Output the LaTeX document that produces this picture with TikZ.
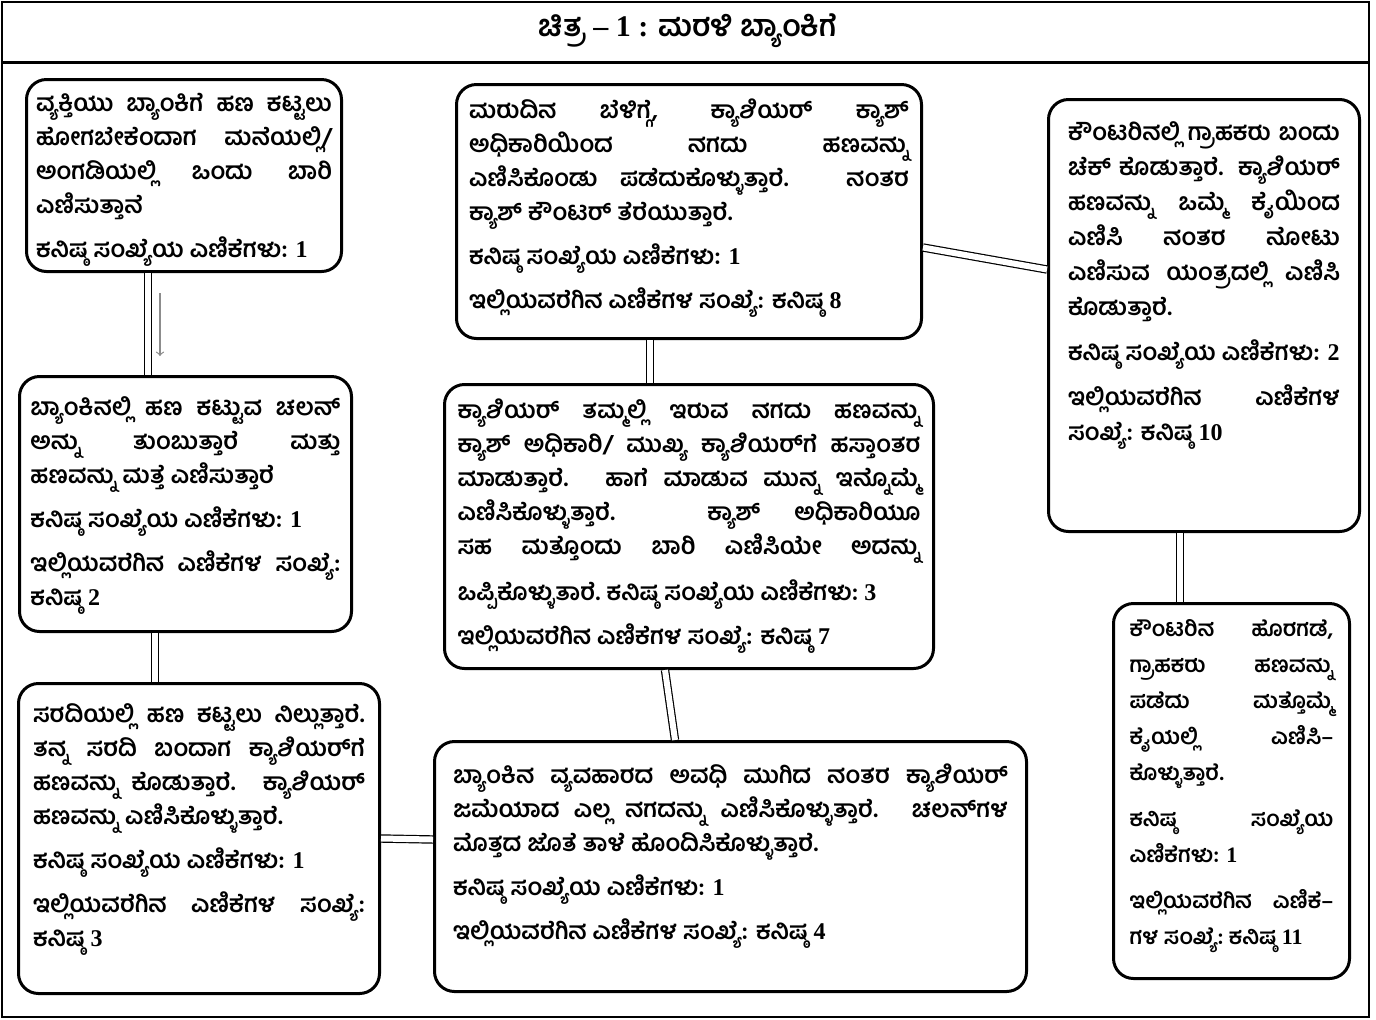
\documentclass[tikz,border=0pt]{standalone}
\usepackage{fontspec}
\setmainfont{Liberation Serif}
\newfontfamily\kn[Script=Kannada]{Hind Mysuru}
\newfontfamily\numfont{Liberation Serif}
\usetikzlibrary{positioning,calc}
\tikzset{
  card/.style={draw, line width=1.5pt, rounded corners=10pt, fill=white,
               inner xsep=0pt, inner ysep=7pt, anchor=north west},
  link/.style={draw, double, double distance=3pt, line width=0.6pt},
  hint/.style={draw=black!45, line width=0.6pt, ->}
}
\newcommand{\nm}[1]{{\numfont\bfseries #1}}
\newcommand{\nxt}{\par\vspace{5pt}}
\newcommand{\jnxt}{{\parfillskip=0pt\par}\vspace{6pt}}
\newcommand{\cardtext}[4][0pt]{\parbox[c][#3][t]{#2}{\kn\bfseries
  \fontsize{12}{17}\selectfont\hyphenpenalty=10000 \exhyphenpenalty=10000
  \vspace*{#1}#4}}

\begin{document}
\begin{tikzpicture}[x=0.5pt,y=-0.5pt]
\useasboundingbox (0,0) rectangle (1376,1019);
% frame and heading
\draw[line width=0.8pt] (2,2) rectangle (1369,1017);
\draw[line width=1.5pt] (2,62) -- (1369,62);
\node[font=\kn\bfseries\fontsize{15}{18}\selectfont] (title) at (688,31)
  {ಚಿತ್ರ \nm{– 1 :} ಮರಳಿ ಬ್ಯಾಂಕಿಗೆ};

% left column
\node[card, minimum width=157.5pt] (b1) at (25,78) {\cardtext{148pt}{82pt}{%
ವ್ಯಕ್ತಿಯು ಬ್ಯಾಂಕಿಗೆ ಹಣ ಕಟ್ಟಲು\linebreak ಹೋಗಬೇಕೆಂದಾಗ ಮನೆಯಲ್ಲಿ/\linebreak
ಅಂಗಡಿಯಲ್ಲಿ ಒಂದು ಬಾರಿ\linebreak ಎಣಿಸುತ್ತಾನೆ\nxt
ಕನಿಷ್ಠ ಸಂಖ್ಯೆಯ ಎಣಿಕೆಗಳು: \nm{1}}};
\node[card, minimum width=166pt] (b2) at (18,375) {\cardtext[3pt]{155pt}{113.5pt}{%
ಬ್ಯಾಂಕಿನಲ್ಲಿ ಹಣ ಕಟ್ಟುವ ಚಲನ್\linebreak ಅನ್ನು ತುಂಬುತ್ತಾರೆ ಮತ್ತು\linebreak
ಹಣವನ್ನು ಮತ್ತೆ ಎಣಿಸುತ್ತಾರೆ\nxt
ಕನಿಷ್ಠ ಸಂಖ್ಯೆಯ ಎಣಿಕೆಗಳು: \nm{1}\nxt
ಇಲ್ಲಿಯವರೆಗಿನ ಎಣಿಕೆಗಳ ಸಂಖ್ಯೆ:\linebreak ಕನಿಷ್ಠ \nm{2}}};
\node[card, minimum width=180.5pt] (b3) at (17,682) {\cardtext[3pt]{166pt}{141pt}{%
ಸರದಿಯಲ್ಲಿ~ಹಣ~ಕಟ್ಟಲು~ನಿಲ್ಲುತ್ತಾರೆ.\linebreak ತನ್ನ ಸರದಿ ಬಂದಾಗ ಕ್ಯಾಶಿಯರ್^^^^200cಗೆ\linebreak
ಹಣವನ್ನು ಕೊಡುತ್ತಾರೆ. ಕ್ಯಾಶಿಯರ್\linebreak ಹಣವನ್ನು ಎಣಿಸಿಕೊಳ್ಳುತ್ತಾರೆ.\nxt
ಕನಿಷ್ಠ ಸಂಖ್ಯೆಯ ಎಣಿಕೆಗಳು: \nm{1}\nxt
ಇಲ್ಲಿಯವರೆಗಿನ ಎಣಿಕೆಗಳ ಸಂಖ್ಯೆ:\linebreak ಕನಿಷ್ಠ \nm{3}}};

% middle column
\node[card, minimum width=232.5pt] (b4) at (455,83) {\cardtext{220pt}{113pt}{%
ಮರುದಿನ ಬೆಳಿಗ್ಗೆ, ಕ್ಯಾಶಿಯರ್ ಕ್ಯಾಶ್\linebreak ಅಧಿಕಾರಿಯಿಂದ ನಗದು ಹಣವನ್ನು\linebreak
ಎಣಿಸಿಕೊಂಡು ಪಡೆದುಕೊಳ್ಳುತ್ತಾರೆ. ನಂತರ\linebreak ಕ್ಯಾಶ್ ಕೌಂಟರ್ ತೆರೆಯುತ್ತಾರೆ.\nxt
ಕನಿಷ್ಠ ಸಂಖ್ಯೆಯ ಎಣಿಕೆಗಳು: \nm{1}\nxt
ಇಲ್ಲಿಯವರೆಗಿನ ಎಣಿಕೆಗಳ ಸಂಖ್ಯೆ: ಕನಿಷ್ಠ \nm{8}}};
\node[card, minimum width=244.5pt] (b5) at (443,383) {\cardtext{231.5pt}{128pt}{%
ಕ್ಯಾಶಿಯರ್ ತಮ್ಮಲ್ಲಿ ಇರುವ ನಗದು ಹಣವನ್ನು\linebreak
ಕ್ಯಾಶ್ ಅಧಿಕಾರಿ/ ಮುಖ್ಯ ಕ್ಯಾಶಿಯರ್^^^^200cಗೆ ಹಸ್ತಾಂತರ\linebreak
ಮಾಡುತ್ತಾರೆ. ಹಾಗೆ ಮಾಡುವ ಮುನ್ನ ಇನ್ನೊಮ್ಮೆ\linebreak
ಎಣಿಸಿಕೊಳ್ಳುತ್ತಾರೆ. ಕ್ಯಾಶ್ ಅಧಿಕಾರಿಯೂ\linebreak
ಸಹ ಮತ್ತೊಂದು ಬಾರಿ ಎಣಿಸಿಯೇ ಅದನ್ನು\jnxt
ಒಪ್ಪಿಕೊಳ್ಳುತಾರೆ.~ಕನಿಷ್ಠ~ಸಂಖ್ಯೆಯ~ಎಣಿಕೆಗಳು:~\nm{3}\nxt
ಇಲ್ಲಿಯವರೆಗಿನ ಎಣಿಕೆಗಳ ಸಂಖ್ಯೆ: ಕನಿಷ್ಠ \nm{7}}};
\node[card, minimum width=296pt] (b6) at (433,740) {\cardtext[4pt]{277.5pt}{111pt}{%
ಬ್ಯಾಂಕಿನ ವ್ಯವಹಾರದ ಅವಧಿ ಮುಗಿದ ನಂತರ ಕ್ಯಾಶಿಯರ್\linebreak
ಜಮೆಯಾದ ಎಲ್ಲ ನಗದನ್ನು ಎಣಿಸಿಕೊಳ್ಳುತ್ತಾರೆ. ಚಲನ್^^^^200cಗಳ\linebreak
ಮೊತ್ತದ ಜೊತೆ ತಾಳೆ ಹೊಂದಿಸಿಕೊಳ್ಳುತ್ತಾರೆ.\nxt
ಕನಿಷ್ಠ ಸಂಖ್ಯೆಯ ಎಣಿಕೆಗಳು: \nm{1}\nxt
ಇಲ್ಲಿಯವರೆಗಿನ ಎಣಿಕೆಗಳ ಸಂಖ್ಯೆ: ಕನಿಷ್ಠ \nm{4}}};

% right column
\node[card, minimum width=155.5pt] (b7) at (1047,98) {\cardtext[4pt]{136pt}{202pt}{%
\baselineskip=17.5pt
ಕೌಂಟರಿನಲ್ಲಿ ಗ್ರಾಹಕರು ಬಂದು\linebreak ಚೆಕ್ ಕೊಡುತ್ತಾರೆ. ಕ್ಯಾಶಿಯರ್\linebreak
ಹಣವನ್ನು ಒಮ್ಮೆ ಕೈಯಿಂದ\linebreak ಎಣಿಸಿ ನಂತರ ನೋಟು\linebreak
ಎಣಿಸುವ ಯಂತ್ರದಲ್ಲಿ ಎಣಿಸಿ\linebreak ಕೊಡುತ್ತಾರೆ.\nxt
ಕನಿಷ್ಠ ಸಂಖ್ಯೆಯ ಎಣಿಕೆಗಳು: \nm{2}\nxt
ಇಲ್ಲಿಯವರೆಗಿನ ಎಣಿಕೆಗಳ\linebreak ಸಂಖ್ಯೆ: ಕನಿಷ್ಠ \nm{10}}};
\node[card, minimum width=118pt] (b8) at (1112,602) {\cardtext[1pt]{102pt}{173.5pt}{%
\fontsize{11}{18}\selectfont
ಕೌಂಟರಿನ ಹೊರಗಡೆ,\linebreak ಗ್ರಾಹಕರು ಹಣವನ್ನು\linebreak ಪಡೆದು ಮತ್ತೊಮ್ಮೆ\linebreak
ಕೈಯಲ್ಲಿ ಎಣಿಸಿ–\linebreak ಕೊಳ್ಳುತ್ತಾರೆ.\nxt
ಕನಿಷ್ಠ ಸಂಖ್ಯೆಯ\linebreak ಎಣಿಕೆಗಳು: \nm{1}\nxt
ಇಲ್ಲಿಯವರೆಗಿನ~ಎಣಿಕೆ–\linebreak ಗಳ~ಸಂಖ್ಯೆ:~ಕನಿಷ್ಠ~\nm{11}}};

% double connectors
\draw[link] ([xshift=61.5pt]b1.south west) -- ([xshift=65pt]b2.north west);
\draw[hint] ([xshift=67.5pt,yshift=-10pt]b1.south west) -- ++(0,-31.5pt);
\draw[link] ([xshift=68.5pt]b2.south west) -- ([xshift=69pt]b3.north west);
\draw[link] (b3.east) -- ([yshift=13.5pt]b6.west);
\draw[link] ([xshift=121pt]b6.north west) -- ([xshift=111pt]b5.south west);
\draw[link] ([xshift=103.5pt]b5.north west) -- ([xshift=97.5pt]b4.south west);
\draw[link] ([yshift=-18pt]b4.east) -- ([yshift=23pt]b7.west);
\draw[link] ([xshift=66.5pt]b7.south west) -- ([xshift=34pt]b8.north west);
\end{tikzpicture}
\end{document}
